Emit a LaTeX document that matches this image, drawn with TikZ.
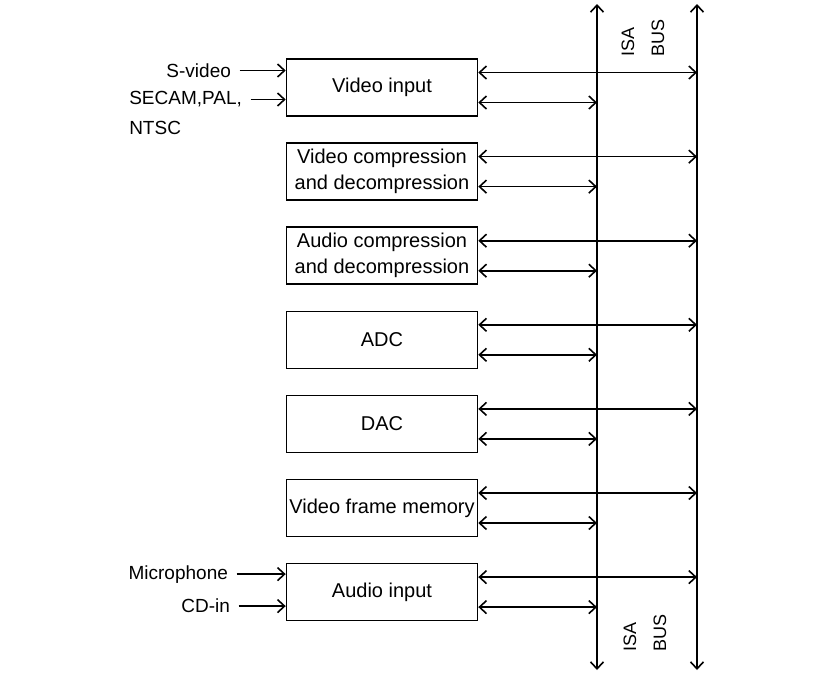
\documentclass[tikz,border=0pt]{standalone}
\usepackage{fontspec}
\setmainfont{Liberation Sans}
\usetikzlibrary{arrows.meta,positioning}

\begin{document}
\begin{tikzpicture}[node distance=25.5pt, >={Straight Barb[length=7pt,width=13pt]}, line width=1.6pt]

\tikzstyle{boks}=[rectangle, draw=black, minimum width=191pt, minimum height=57pt, inner sep=2pt, align=center, font=\fontsize{20}{26}\selectfont]
\tikzstyle{merke}=[inner sep=2pt, font=\fontsize{19}{24}\selectfont]
\tikzstyle{bustekst}=[rotate=90, anchor=west, align=left, inner sep=0pt, font=\fontsize{18}{30}\selectfont]
\tikzstyle{pil}=[->, shorten <=6pt]
\tikzstyle{dobbelpil}=[<->]

\useasboundingbox (0,0) rectangle (831pt,-673pt);

%% blokkene
\node[boks] (vin) at (382pt,-87.5pt) {Video input};
\node[boks, below=of vin] (vkomp) {Video compression\\and decompression};
\node[boks, below=of vkomp] (akomp) {Audio compression\\and decompression};
\node[boks, below=of akomp] (adc) {ADC};
\node[boks, below=of adc] (dac) {DAC};
\node[boks, below=of dac] (vfm) {Video frame memory};
\node[boks, below=of vfm] (ain) {Audio input};

%% bussen
\coordinate (venstretopp) at (597pt,-4pt);
\coordinate (venstrebunn) at (597pt,-670pt);
\coordinate (hoyretopp) at (697pt,-4pt);
\coordinate (hoyrebunn) at (697pt,-670pt);
\draw[dobbelpil] (venstrebunn) -- (venstretopp);
\draw[dobbelpil] (hoyrebunn) -- (hoyretopp);

\node[bustekst] (isatopp) at (643pt,-57pt) {ISA\\BUS};
\node[bustekst] (isabunn) at (645pt,-652pt) {ISA\\BUS};

\foreach \k in {vin,vkomp,akomp,adc,dac,vfm,ain} {
  \coordinate (\k1) at ([yshift=15pt]\k.east);
  \coordinate (\k2) at ([yshift=-15pt]\k.east);
  \draw[dobbelpil] (\k1) -- (\k1 -| hoyretopp);
  \draw[dobbelpil] (\k2) -- (\k2 -| venstretopp);
}

%% innganger
\coordinate (svinn) at ([yshift=17pt]vin.west);
\coordinate (secinn) at ([yshift=-12pt]vin.west);
\node[merke, left=52pt of svinn] (svid) {S-video};
\node[merke, left=41pt of secinn] (secam) {SECAM,PAL,};
\node[merke, below right=8pt and 0pt of secam.south west] (ntsc) {NTSC};

\coordinate (mikinn) at ([yshift=18pt]ain.west);
\coordinate (cdinn) at ([yshift=-14pt]ain.west);
\node[merke, left=55pt of mikinn] (mik) {Microphone};
\node[merke, left=53pt of cdinn] (cd) {CD-in};

\draw[pil] (svid.east) -- (svinn);
\draw[pil] (secam.east) -- (secinn);
\draw[pil] (mik.east) -- (mikinn);
\draw[pil] (cd.east) -- (cdinn);

\end{tikzpicture}
\end{document}
